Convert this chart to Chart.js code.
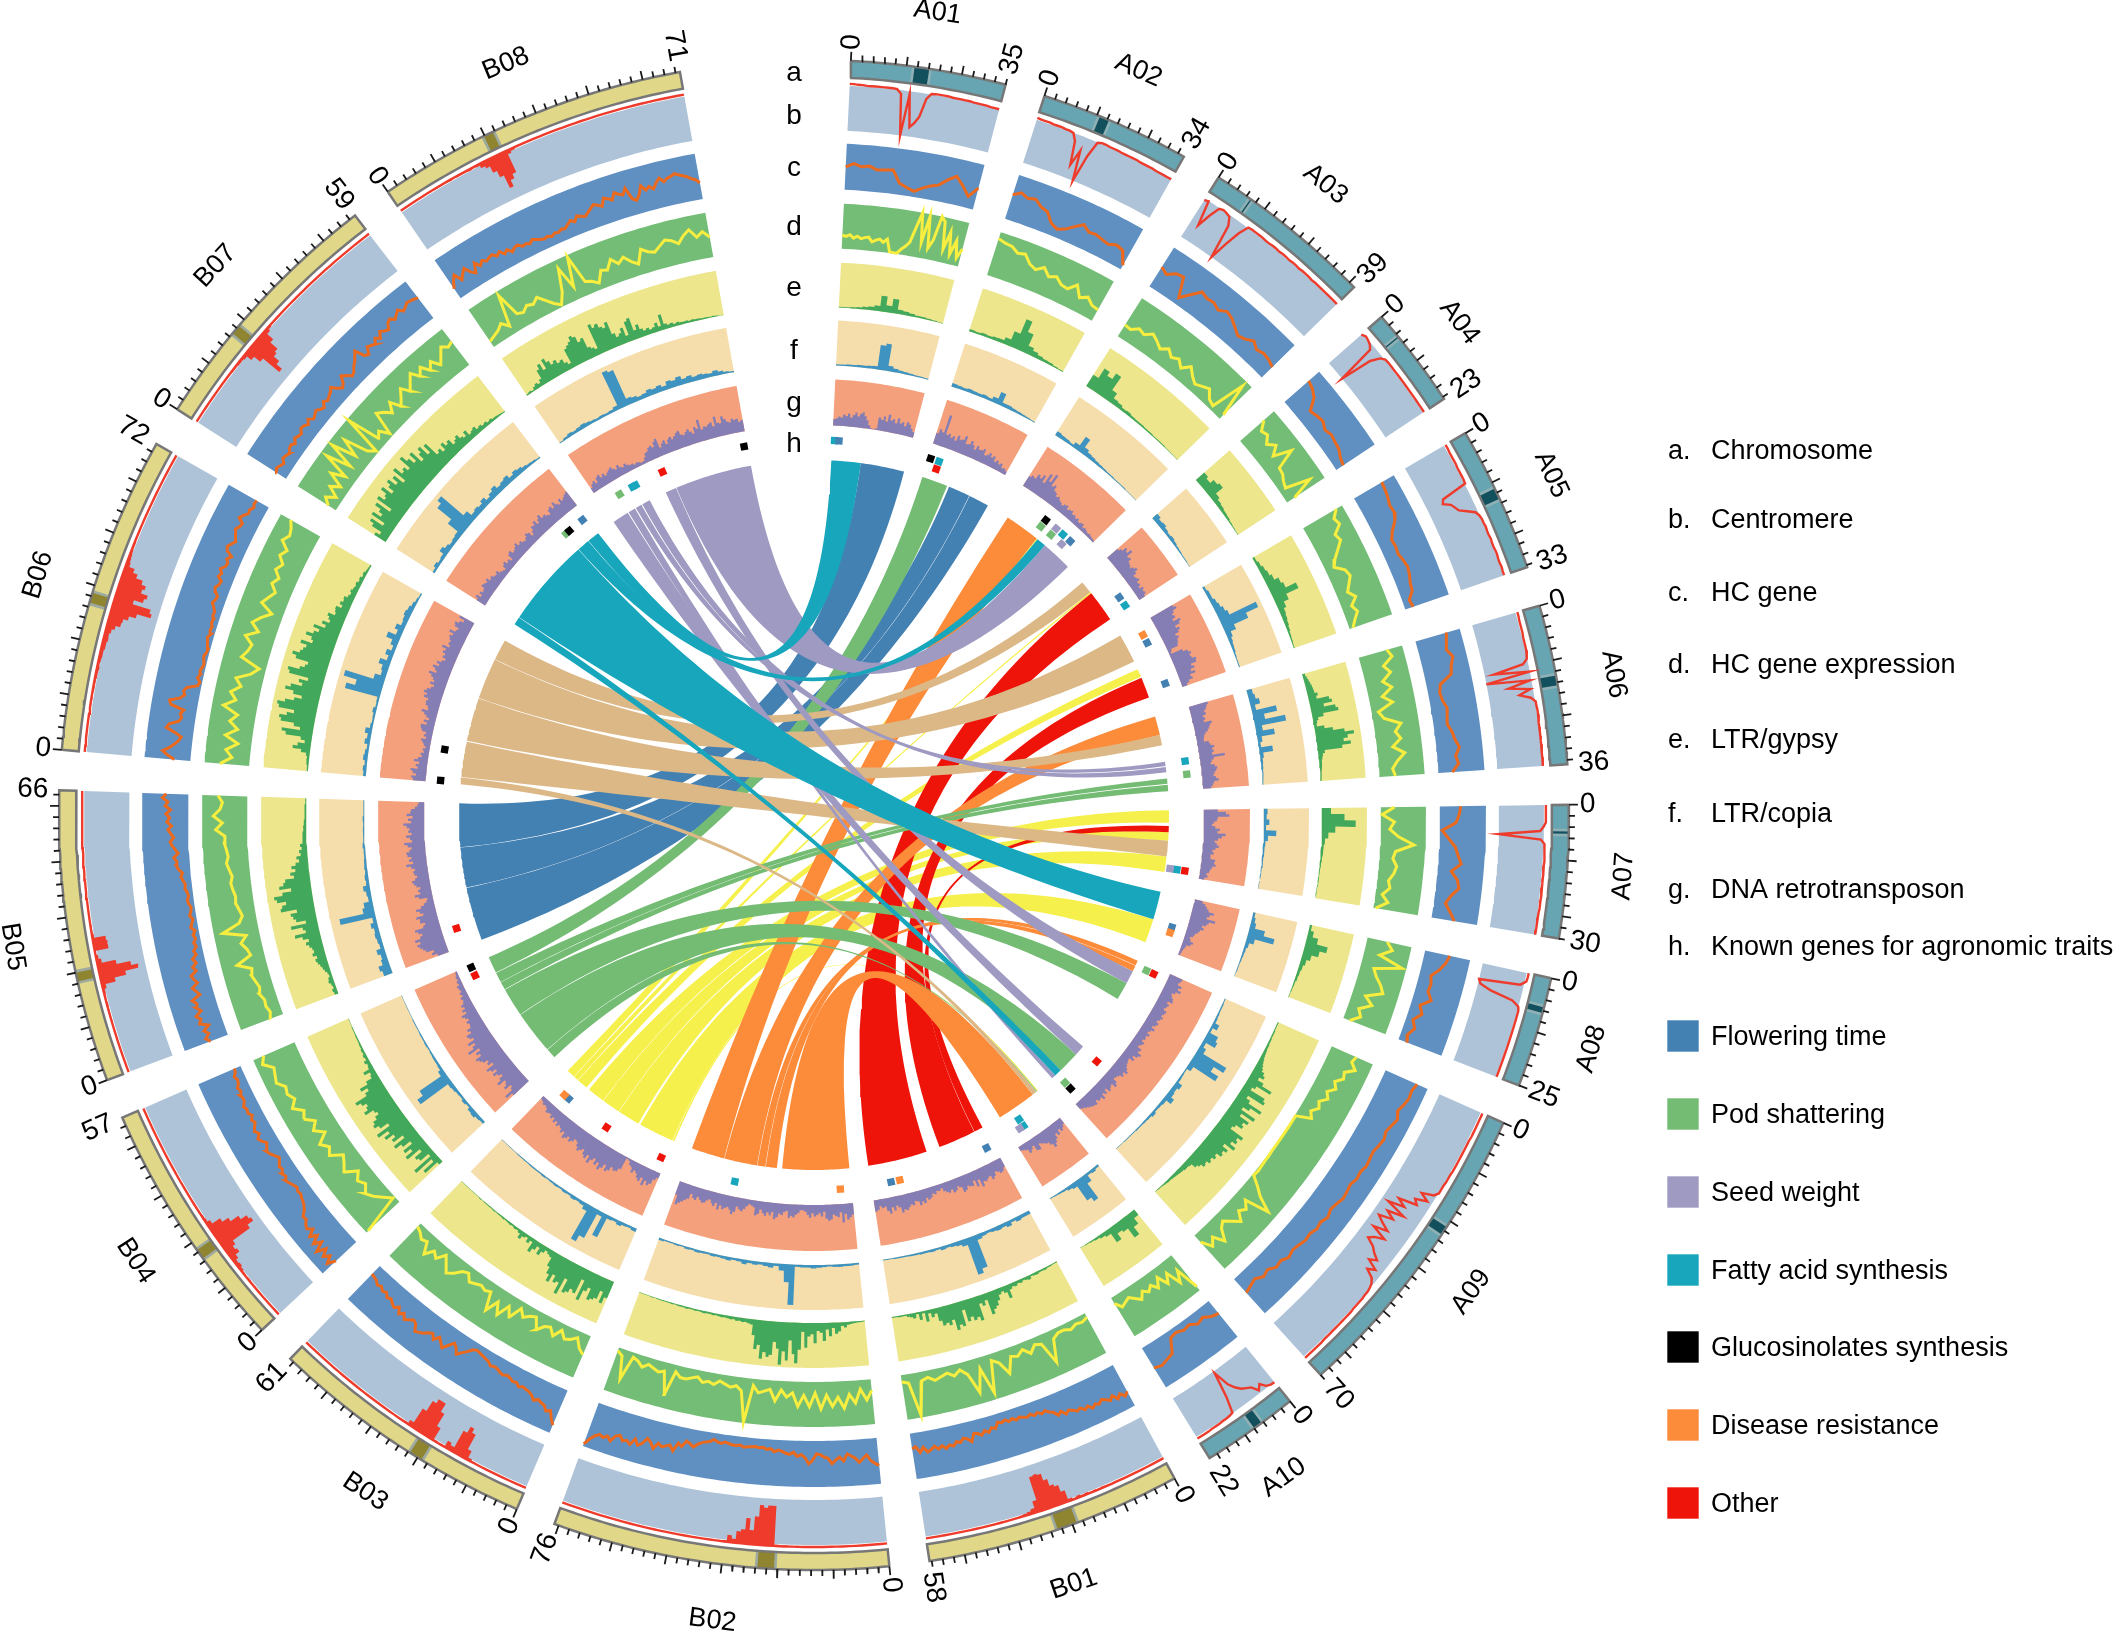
<!DOCTYPE html>
<html>
<head>
<meta charset="utf-8">
<title>Genome circos</title>
<script src="https://cdn.jsdelivr.net/npm/chart.js@4"></script>
<style>
  html, body { margin: 0; padding: 0; background: #fff; }
  canvas { display: block; }
</style>
</head>
<body>
<canvas id="circos" width="2113" height="1636"></canvas>
<script>
const chrNames = ['A01','A02','A03','A04','A05','A06','A07','A08','A09','A10','B01','B02','B03','B04','B05','B06','B07','B08'];
const chrSizes = [35,34,39,23,33,36,30,25,70,22,58,76,61,57,66,72,59,71];
const cenStart = [14.3,13.2,8.6,5.7,14,16,6,6.7,26.5,8,24,25.8,24,20.7,23,33.5,21,24.8];
const cenEnd   = [17.6,15.4,8.9,6,16.5,18.2,6.5,8,28.5,10,28.5,29.5,27,23,25,35.8,23.2,27];

// b. centromere, depth below the outer edge of the band
const centromere = [
  [0,0,1,1,2,2,2,2,2,2,2,3,12,100,10,80,70,55,15,3,2,2,2,2,3,3,3,3,3,4,4,4,4,5,5,5],
  [0,1,1,1,2,2,2,3,3,5,20,70,35,100,40,5,2,2,3,3,3,4,4,4,4,4,5,5,5,5,6,6,6,6,6],
  [8,5,60,30,6,3,5,8,25,100,60,25,3,2,2,2,2,3,3,2,2,3,2,2,3,2,2,3,2,2,2,3,2,2,2,2,2,2,2,2],
  [8,3,5,8,15,100,30,10,3,2,2,2,2,2,2,2,2,2,2,2,2,2,2,2],
  [0,0,1,1,1,1,2,2,2,2,3,60,65,50,45,40,25,10,5,3,3,2,3,3,2,3,3,2,2,3,3,2,3,3],
  [0,0,1,1,1,1,2,2,2,2,3,5,15,80,5,100,8,55,10,35,12,3,3,2,2,2,3,3,3,3,3,3,3,3,3,3,3],
  [0,0,0,0,1,5,12,100,10,2,1,1,1,1,1,1,1,1,1,1,1,1,1,1,1,2,2,2,2,2,2],
  [0,0,1,12,100,95,70,20,5,2,2,2,2,2,2,2,2,2,2,2,2,2,2,2,2,2],
  [0,0,0,0,0,0,0,1,1,1,1,1,1,1,1,1,2,2,2,3,3,3,10,35,15,40,30,70,50,85,40,75,55,85,70,50,80,45,65,75,55,45,30,45,20,35,15,8,5,3,3,2,2,2,2,1,1,1,1,1,1,1,1,1,1,0,0,0,0,0,0],
  [3,4,8,20,10,25,30,35,45,60,95,40,5,3,2,2,1,1,1,0,0,0,0],
  [0,0,0,1,0,1,1,0,1,1,2,1,2,1,2,3,2,3,2,4,3,5,3,5,25,40,45,60,75,78,76,25,10,6,4,3,2,2,1,1,2,1,1,1,0,1,0,1,0,0,1,0,0,0,0,0,0,0],
  [0,0,0,0,0,1,0,0,0,1,0,1,0,1,1,1,1,1,1,1,2,1,1,2,1,3,85,85,80,85,60,30,55,30,25,8,15,3,2,1,1,1,1,0,1,1,0,1,0,0,1,0,0,1,0,0,0,1,0,0,0,0,1,0,0,0,0,0,0,0,0,0,0,0,0,0],
  [0,0,0,1,0,1,0,1,1,0,1,1,1,2,5,20,55,65,50,10,15,2,1,3,30,60,80,80,70,45,10,3,2,1,1,1,1,0,1,1,0,0,1,0,0,0,1,0,0,0,0,0,0,0,0,0,0,0,0,0,0],
  [0,0,1,0,1,1,1,1,2,2,3,2,3,5,8,6,12,22,18,25,70,85,80,65,45,30,10,4,3,2,2,1,1,1,0,1,0,0,1,0,0,0,0,0,0,0,0,0,0,0,0,0,0,0,0,0,0],
  [0,0,0,1,0,0,1,1,1,1,1,1,2,1,2,2,3,2,3,4,8,30,55,85,70,40,10,5,3,30,30,28,4,2,2,1,1,1,1,1,0,1,0,1,0,0,0,0,0,0,0,0,0,0,0,0,0,0,0,0,0,0,0,0,0,0],
  [0,0,0,1,1,1,1,1,2,1,2,2,2,2,3,3,3,4,4,5,4,5,6,6,8,8,10,9,12,18,28,30,40,55,85,80,40,60,65,50,55,45,30,20,8,6,5,4,3,3,2,2,2,1,1,1,1,1,1,1,1,1,0,1,0,0,0,0,0,0,0,0],
  [0,0,0,1,1,1,1,1,1,2,1,2,2,2,3,3,4,4,6,18,35,80,65,50,45,25,8,4,2,2,1,1,1,1,1,0,1,0,0,0,0,0,0,0,0,0,0,0,0,0,0,0,0,0,0,0,0,0,0],
  [0,0,0,1,1,1,1,1,1,2,2,2,2,3,2,3,3,3,4,3,4,10,15,30,45,75,60,50,8,4,2,1,1,1,1,1,1,1,1,0,1,0,1,0,0,1,0,0,0,0,0,0,0,0,0,0,0,0,0,0,0,0,0,0,0,0,0,0,0,0,0]
];

// c. HC gene
const hcGene = [
  [50,58,52,55,48,50,52,25,18,12,22,30,35,50,62,45,25,48],
  [55,65,58,62,50,45,25,18,25,38,50,40,42,38,35,42,38,10],
  [50,42,55,58,15,35,55,50,52,45,55,50,40,30,35,45,35,40,38,32],
  [70,65,55,30,35,38,30,35,32,30,22,18],
  [70,68,65,60,62,55,40,30,32,30,35,38,35,30,28,15,18],
  [70,65,60,70,62,58,30,25,28,35,32,30,38,42,50,40,45,30],
  [45,42,35,5,20,35,42,50,30,45,50,35,25,38,50],
  [55,50,40,25,30,28,40,20,30,15,25,15,20],
  [75,70,72,68,62,70,65,60,65,62,58,60,62,58,60,55,58,60,55,52,58,52,55,50,52,48,45,50,42,45,35,40,30,35,40],
  [35,30,20,25,15,18,12,15,45,50,55,50],
  [65,72,62,70,58,66,60,55,62,58,64,55,60,52,56,50,46,52,42,48,38,34,28,32,26,30,24,28,25,22,26,20,24,18,22,18,30,26,34,28,36,30,28,44,36,32,40,36,44,40,46,38,44,36,42,46,34,44,30,34],
  [60,55,48,35,42,50,40,35,30,45,36,42,50,38,35,30,28,42,50,36,30,34,25,30,28,24,22,26,20,22,18,20,18,19,20,22,18,20,20,18,16,20,18,14,20,22,25,30,38,32,28,42,36,55,44,48,52,46,60,48,42,55,62,50,65,58,62,52,56,70,62,68,64,70,80,95],
  [82,70,55,60,50,48,44,50,42,38,36,34,38,32,34,30,28,32,30,26,25,28,22,20,18,16,14,18,28,36,46,34,28,40,52,44,36,48,38,42,50,54,58,44,40,46,52,42,50,38,46,42,36,40,32,36,30,34,28,26,24],
  [60,78,62,74,58,78,56,72,54,68,52,62,58,50,52,42,36,32,30,26,28,24,28,32,36,30,34,28,30,24,20,26,32,36,30,26,34,38,30,36,32,26,30,24,30,28,32,26,24,28,22,26,20,18,22,16,14],
  [40,48,38,46,32,50,44,52,38,46,42,50,30,36,42,28,34,38,24,30,20,26,16,20,12,16,10,14,8,16,12,8,14,10,8,12,14,10,12,16,14,18,22,18,26,30,28,34,24,30,36,40,32,38,44,36,46,40,48,38,50,44,56,48],
  [35,50,62,48,38,30,25,40,60,55,35,30,34,28,58,62,40,32,36,30,8,5,12,8,10,7,5,8,10,6,5,8,10,14,8,12,10,14,12,16,15,20,26,22,20,28,32,26,24,34,30,36,28,26,32,24,38,42,36,30,34,38,42,36,34,46,40,32,34,28,32,30],
  [24,30,26,22,30,28,24,30,32,26,34,30,28,36,34,28,36,26,30,34,28,24,34,28,32,36,42,30,22,28,42,34,24,28,36,42,50,58,36,32,46,42,38,48,40,52,46,42,54,58,50,56,62,52,56,62,60,58,55],
  [25,40,50,32,42,50,36,28,48,36,44,38,42,44,36,42,32,38,28,34,36,28,30,26,32,28,24,22,24,20,24,22,26,24,30,36,30,40,36,32,38,44,50,46,40,56,52,46,60,54,50,62,36,30,40,58,46,52,44,56,64,54,60,62,66,62,58,54,48,44,36]
];

// d. HC gene expression
const hcExpression = [
  [30,28,32,25,30,25,28,30,20,25,28,22,30,3,2,2,12,20,30,65,100,35,95,25,45,100,90,30,70,22,55,18,40],
  [85,80,78,68,72,55,48,60,45,52,40,38,55,32,42,30,28],
  [30,28,40,35,48,40,30,42,30,38,25,42,28,18,25,32,15,10,88,12],
  [70,50,55,40,55,35,75,30,28,20,15,70,20],
  [85,70,75,55,60,45,30,20,40,45,35,25,38,22,30,18,8],
  [65,72,48,60,38,55,30,50,15,25,60,45,55,35,60,42,30,35],
  [30,3,30,20,40,75,35,30,40,35,25,30,15,30,5],
  [45,60,35,90,30,40,55,65,30,50,25,35,15],
  [60,55,70,50,55,40,50,35,45,30,38,25,35,2,2,2,2,2,2,2,2,3,3,4,5,3,25,45,80,25,40,30,50,35,20,30,55,30,45,20],
  [90,35,60,25,45,20,40,25,35,25,40,30,20,25,30,15],
  [10,15,12,18,12,12,20,70,20,15,30,15,25,20,55,25,15,85,25,75,30,15,25,15,20,25,15,20,95,20,15],
  [25,45,20,50,30,60,35,55,30,60,25,55,30,55,25,35,20,45,20,25,30,15,98,30,20,25,20,15,25,20,25,15,20,25,25,15,70,20,25,20,15,25,15,10,65,15,8],
  [45,35,15,25,30,15,35,20,25,40,15,20,30,15,45,25,55,30,60,20,25,20,25,30,15,20,35,45,30,15,35,25,45,20,25,15,10],
  [95,5,20,35,45,30,40,25,50,40,30,55,45,60,35,55,40,60,50,70,55,65,60,75,70,65,85,75],
  [30,25,30,28,35,30,35,40,35,65,30,35,45,30,80,40,30,35,40,38,42,45,40,45,50,45,48,52,50,70,55,75,60,55,65],
  [65,40,55,30,60,35,55,40,75,50,65,45,60,30,15,60,50,45,65,40,60,45,25,55,45,35,50,40,55,45,60,50,70,60,65,75],
  [20,35,15,40,20,55,25,85,30,90,35,75,20,5,95,20,30,8,60,50,35,55,30,45,60,40,55,70,50,65,45,60,40,55,70,60,65],
  [15,20,25,35,20,90,35,30,40,35,45,30,15,5,30,80,30,95,30,25,15,40,35,55,40,50,35,25,55,45,40,50,60,55,45,60,70,50,60,45]
];

// e. LTR/gypsy
const gypsy = [
  [2,2,3,4,6,8,12,35,15,32,10,8,6,4,4,3,2,1],
  [5,4,6,5,7,8,15,35,70,45,18,12,8,6,5,3,2],
  [30,55,45,60,25,12,10,6,7,5,4,4,3,3,2,2,2,1,1,1],
  [25,20,30,35,15,10,8,6,5,3,2,1],
  [5,8,12,15,20,30,35,60,30,18,12,10,8,6,4,3,2],
  [6,8,10,12,14,15,16,22,18,45,50,30,55,60,25,12,8,6,22,40,65,85,70,60,75,55,15,10,8,6,6,5,4,3,2,2],
  [20,50,75,30,15,8,6,5,4,3,2,2,2,1,1],
  [5,12,25,50,35,20,12,8,6,5,3,2,1],
  [2,2,2,3,3,3,4,4,5,5,6,7,8,10,12,15,18,25,30,20,35,60,25,18,55,60,20,30,65,40,25,62,30,55,45,50,35,30,65,55,60,50,65,40,55,48,52,40,45,38,42,35,38,30,25,14,12,12,10,9,8,7,6,5,5,4,3,2,2,1],
  [15,30,50,25,20,35,12,8,5,3,2,1],
  [2,2,3,3,5,4,4,6,5,4,9,7,5,8,6,10,8,12,30,15,10,14,25,35,40,50,15,25,18,55,45,50,40,48,20,55,50,60,35,45,38,42,30,12,18,8,25,5,18,4,12,8,6,3,3,3,2,2],
  [2,3,3,4,5,6,12,8,20,25,12,30,15,40,22,18,45,25,30,55,20,60,90,70,40,85,65,95,60,45,75,80,70,85,55,65,35,12,10,8,9,7,8,6,7,6,5,6,5,4,5,4,4,5,4,3,4,3,3,4,3,3,3,2,3,2,2,2,2,2,1,2,1,1,1,1],
  [40,55,30,50,55,60,35,45,70,25,60,55,65,70,40,80,55,60,45,65,50,35,15,12,8,15,25,10,20,30,8,15,6,10,18,8,5,6,4,5,4,3,4,3,3,2,3,2,2,2,2,1,2,1,1,1,1,1,1,1,1],
  [10,45,15,60,12,35,40,20,55,35,50,25,45,60,30,55,45,65,50,75,40,60,70,65,55,45,50,70,60,55,65,75,45,35,50,30,15,12,25,10,8,12,6,8,5,6,4,4,3,3,3,2,2,2,1,1,1],
  [8,10,6,8,12,10,6,8,12,15,18,22,25,20,28,22,25,30,35,28,40,55,30,35,60,25,45,50,55,40,75,70,60,80,85,65,45,70,60,55,35,42,30,38,28,20,25,15,18,12,15,10,10,8,8,6,7,5,5,4,4,3,3,3,2,2],
  [3,3,5,6,5,8,20,40,30,15,25,60,70,30,45,75,80,65,50,85,90,75,55,40,60,80,70,45,55,35,80,85,60,50,45,75,85,70,65,60,75,50,55,70,55,45,60,35,45,30,35,40,25,28,30,18,25,20,22,15,12,15,12,10,12,8,10,6,8,5,4,3],
  [30,20,45,55,25,60,40,50,65,30,70,55,60,75,50,65,75,55,70,45,80,60,65,55,85,70,55,75,45,60,70,45,65,30,35,25,40,30,35,20,25,30,20,15,25,12,15,18,10,12,8,10,6,8,5,5,4,3,2],
  [3,5,3,8,12,8,15,35,45,28,50,40,30,35,25,28,18,12,45,50,55,65,60,45,50,25,20,15,70,60,65,55,50,60,30,20,25,35,15,45,50,20,30,18,12,15,10,12,20,10,35,12,8,10,6,8,6,5,6,4,5,4,4,3,3,3,2,3,2,1,1]
];

// f. LTR/copia
const copia = [
  [3,3,4,4,5,5,6,7,55,60,12,8,6,5,4,3,3,2],
  [8,7,6,8,7,6,8,6,12,28,8,8,6,5,4,3,2],
  [10,8,7,5,12,35,15,10,8,6,5,4,3,3,2,2,2,1,1,1],
  [15,10,12,8,6,8,6,4,3,2,2,1],
  [5,8,8,12,15,20,25,90,60,25,12,8,6,5,3,2,2],
  [12,15,22,10,55,25,70,15,40,10,5,30,8,5,4,3,2,1],
  [8,6,12,5,28,10,5,4,4,3,3,2,2,1,1],
  [5,8,12,35,60,18,8,5,4,3,2,2,1],
  [2,3,3,4,5,15,5,25,30,8,15,75,50,70,12,3,4,5,15,10,12,20,8,6,5,8,5,4,3,3,2,2,2,1,1],
  [5,8,6,20,60,50,12,8,5,4,3,2],
  [8,8,10,6,12,8,10,8,6,8,12,75,85,15,10,8,6,8,5,6,5,5,4,4,3,3,3,2,2],
  [4,5,5,6,5,4,5,6,8,6,6,5,90,40,15,6,10,8,6,8,6,10,6,5,8,6,5,6,4,5,6,4,5,3,4,3,3,5],
  [8,5,6,10,6,8,55,10,70,85,15,8,6,8,5,6,4,5,4,3,4,3,3,3,2,2,2,1,1,1,1],
  [6,8,12,10,5,8,5,6,8,10,85,70,12,6,5,5,4,3,4,3,3,2,2,2,1,1,1,1,1],
  [20,25,15,12,18,8,10,12,10,15,8,80,25,20,8,10,15,6,8,5,6,5,4,4,5,3,3,3,2,3,2,2,1],
  [6,8,6,10,8,5,12,8,15,6,4,5,8,4,5,80,60,90,25,12,15,25,10,18,8,15,30,12,20,10,12,15,12,8,5,3],
  [5,10,6,8,18,12,8,10,12,40,80,90,25,12,15,12,18,10,15,20,12,15,18,10,15,12,8,6,5,3],
  [2,5,8,6,8,10,8,6,5,6,5,6,10,90,85,15,12,8,10,15,12,15,10,18,15,20,12,15,10,12,10,8,12,8,5,3]
];

// g. DNA retrotransposon
const dnaRetro = [
  [14,16,20,18,25,22,28,20,26,32,24,30,34,26,18,8,2,1,3,28,24,32,22,38,26,30,22,34,24,28,20,30,26,18,12],
  [25,35,30,70,28,32,25,30,22,35,28,30,40,24,26,35,28,20,30,24,25,30,18,22,28,20,25,15,20,14,18,10,12,8],
  [25,30,28,40,35,45,30,55,40,60,35,40,30,28,22,25,20,18,15,20,22,15,18,20,14,16,12,15,10,12,14,8,10,8,6,8,6,5,4],
  [30,35,45,40,50,35,38,30,28,25,30,35,28,20,22,25,18,20,15,22,18,20,15],
  [55,60,50,45,48,40,55,50,38,45,40,30,35,30,28,25,8,5,30,40,45,40,42,50,48,35,40,30,38,25,28,18,12],
  [42,38,35,30,32,25,28,24,40,35,32,28,22,18,16,15,25,28,35,30,32,28,55,30,25,22,30,35,32,28,25,30,35,25,22,18],
  [30,48,55,30,28,22,18,25,35,30,48,40,32,25,30,35,28,22,25,18,20,30,28,32,25,22,20,15,18,12],
  [18,25,30,35,48,40,35,55,42,38,30,35,28,25,20,18,12,15,22,18,10,8,6,5,4],
  [30,28,25,35,30,38,28,22,25,30,32,22,28,25,22,30,28,25,30,26,22,28,25,20,28,22,18,25,20,22,18,25,22,18,28,25,35,30,22,28,18,20,22,25,30,35,28,32,25,22,20,30,35,25,28,32,22,30,25,35,28,30,25,32,30,28,25,22,18,15],
  [15,20,25,18,28,22,32,38,45,35,28,25,22,18,30,28,15,20,25,15,12,10],
  [22,28,30,25,22,30,35,25,28,32,30,40,22,35,20,30,28,25,32,35,22,18,25,28,20,25,22,18,10,14,12,18,15,22,25,20,30,25,32,22,20,28,25,30,35,32,38,25,20,30,22,35,28,18,20,15,22,25],
  [25,30,35,22,40,18,28,25,22,32,35,30,15,25,18,22,25,18,28,22,15,12,12,18,22,28,25,30,15,18,25,22,30,35,20,28,22,30,25,18,28,32,15,12,10,15,22,28,25,20,32,38,30,25,28,32,25,35,22,30,25,18,22,28,30,25,20,28,25,18,30,35,40,45,50,30],
  [12,18,30,35,28,40,25,35,30,22,18,25,15,12,5,3,30,38,40,35,45,50,38,48,55,42,50,38,45,55,40,50,45,35,40,45,38,30,28,35,40,32,38,42,30,35,28,25,30,22,28,20,25,18,20,22,15,12,14,10,8],
  [45,60,40,35,50,42,38,55,45,35,42,50,38,48,55,35,45,40,50,55,60,45,52,40,65,50,42,55,38,45,48,35,40,30,28,32,25,30,35,22,28,20,25,18,15,18,12,15,10,12,14,8,10,6,8,5,4],
  [25,35,30,45,50,55,60,52,62,48,42,50,55,35,30,40,38,45,28,35,42,30,22,15,12,30,38,25,28,22,30,35,38,30,25,30,32,28,35,45,30,38,32,40,42,35,30,38,45,28,32,40,28,35,32,38,45,28,35,25,38,30,28,20,15,12],
  [28,32,22,30,35,20,25,18,30,22,15,18,12,15,10,14,18,22,12,18,15,25,28,30,18,25,15,22,28,35,22,25,30,32,28,40,35,42,38,30,25,35,28,32,38,45,30,35,42,30,38,28,22,30,28,35,30,40,25,30,28,32,35,30,40,28,25,35,38,30,22,35],
  [22,28,18,25,20,22,30,28,25,30,22,25,20,18,22,15,12,10,18,22,15,18,12,25,28,20,22,25,30,22,25,20,18,22,28,25,15,22,30,28,35,25,32,38,28,30,25,22,32,35,28,38,30,25,35,28,32,35,38],
  [12,18,22,15,25,28,20,25,18,22,25,28,22,18,25,18,15,20,15,12,12,8,10,8,5,6,12,20,22,28,30,25,35,40,18,25,30,20,28,32,25,30,35,38,28,25,30,35,28,22,35,30,48,25,30,28,32,35,25,45,30,28,42,35,28,25,32,28,30,22,25]
];

// from chr, start, end, to chr, start, end (Mb)
const flowerLinks = [
  ['B05',45.2,66,'A01',14,35],
  ['B05',25.8,45,'A02',13.5,24],
  ['B05',0,25.6,'A02',24.2,34]
];
const podLinks = [
  ['B04',49,57,'A02',0,12.5],
  ['B04',44,48.8,'A06',30,32.5],
  ['B04',40,43.8,'A06',33,36],
  ['B04',26,39.8,'A09',12.5,21],
  ['B04',5,25.8,'A09',54,64.5],
  ['B04',0,4.8,'A10',0.5,1]
];
const seedLinks = [
  ['B08',34,71,'A03',24,39],
  ['B08',28.5,33.8,'A09',6,12.5],
  ['B08',0,8,'A09',49,54],
  ['B08',8.5,12,'A09',68,70],
  ['B08',12.5,15.5,'A06',22,24],
  ['B08',16,20,'A06',24.5,27]
];
const fattyLinks = [
  ['B07',53.2,59,'A01',0,14],
  ['B07',47,53,'A03',19.5,24],
  ['B07',4,46.8,'A08',0,13.5],
  ['B07',0,3.8,'A09',64.5,68]
];
const diseaseLinks = [
  ['B02',0,32,'A10',3,22],
  ['B02',60,76,'A03',2,19],
  ['B02',44,59.8,'A06',0,9],
  ['B02',40,43.8,'A09',3.2,6],
  ['B02',34.5,39.8,'A09',0.5,3]
];
const otherLinks = [
  ['B01',29.5,58,'A04',7.7,23],
  ['B01',5,23,'A05',22.5,32.5],
  ['B01',0.5,4.8,'A07',7.5,10.5]
];
const yellowLinks = [
  ['B03',57,61,'A03',19,19.5],
  ['B03',54.5,56.8,'A04',7,7.7],
  ['B03',49,54.3,'A05',18,22],
  ['B03',39,47.5,'A07',0,6],
  ['B03',30,38.8,'A07',10.5,14.5],
  ['B03',19,29.8,'A07',22,29.5],
  ['B03',1,18,'A08',13.5,25],
  ['B03',0,0.8,'A10',0,0.5]
];
const tanLinks = [
  ['B06',62,72,'A04',1,7],
  ['B06',42,61.8,'A05',0,14],
  ['B06',21,41.8,'A06',9,14],
  ['B06',3.5,20.5,'A07',14.5,22],
  ['B06',0,3.3,'A10',1,3]
];

// chr, Mb, group, tier from the outside
const knownGenes = [
  ['A01',1,'fatty',0],['A01',3,'flower',0],['A02',1,'gluco',0],['A02',5,'fatty',0],['A02',5,'other',1],
  ['A03',17,'gluco',0],['A03',17,'pod',1],['A03',23,'seed',0],['A03',27,'fatty',0],['A03',31.5,'flower',0],
  ['A03',23,'pod',1],['A03',29.5,'seed',1],['A04',17,'flower',0],['A04',21.5,'fatty',0],['A05',5,'disease',0],
  ['A05',9,'flower',0],['A05',29,'flower',0],['A06',23,'fatty',0],['A06',29,'pod',0],['A07',27.5,'other',0],
  ['A07',27.5,'fatty',1],['A07',27.5,'seed',2],['A08',14.5,'flower',0],['A08',17,'disease',0],['A09',3,'other',0],
  ['A09',3,'pod',1],['A09',50,'other',0],['A09',67,'gluco',0],['A09',67,'pod',1],['A10',15,'fatty',1],
  ['A10',15,'fatty',0],['A10',17,'seed',0],['B01',3.3,'flower',0],['B01',45,'disease',0],['B01',49,'flower',0],
  ['B02',5,'disease',0],['B02',52.7,'fatty',0],['B03',2.5,'other',0],['B03',30.6,'other',0],['B03',52,'flower',0],
  ['B03',54.5,'disease',0],['B04',52,'other',0],['B04',56,'gluco',0],['B05',8.7,'other',0],['B06',1,'gluco',0],
  ['B06',15,'gluco',0],['B07',47.5,'pod',0],['B07',49.3,'gluco',0],['B07',57,'flower',0],['B08',9.3,'pod',0],
  ['B08',16,'fatty',0],['B08',17.5,'fatty',0],['B08',31,'other',0],['B08',69.5,'gluco',0]
];

const trackLetters = ['a','b','c','d','e','f','g','h'];
const trackNames = ['Chromosome','Centromere','HC gene','HC gene expression','LTR/gypsy','LTR/copia','DNA retrotransposon','Known genes for agronomic traits'];
const groupNames = ['Flowering time','Pod shattering','Seed weight','Fatty acid synthesis','Glucosinolates synthesis','Disease resistance','Other'];

const colors = {
  flower: '#4481B3', pod: '#74BC74', seed: '#9E9AC2', fatty: '#17A6BC',
  gluco: '#000000', disease: '#FC8B3A', other: '#EE140A', yellow: '#F6F04C', tan: '#DCB887'
};
const groupKeys = ['flower','pod','seed','fatty','gluco','disease','other'];

// layout
const CX = 814, CY = 815;
const DEG_PER_MB = 0.34, GAP = 3.07, FIRST = 2.8;
const chrStart = {};
let angleNow = FIRST;
chrNames.forEach((n, i) => {
  chrStart[n] = angleNow;
  angleNow += chrSizes[i] * DEG_PER_MB + GAP;
});

function toAngle(name, mb) { return chrStart[name] + mb * DEG_PER_MB; }
function polar(deg, r) {
  const a = deg * Math.PI / 180;
  return { x: CX + r * Math.sin(a), y: CY - r * Math.cos(a) };
}
function arc(a0, a1, r) {
  const n = Math.max(2, Math.ceil(Math.abs(a1 - a0) / 0.5));
  const pts = [];
  for (let i = 0; i <= n; i++) pts.push(polar(a0 + (a1 - a0) * i / n, r));
  return pts;
}
function band(a0, a1, r0, r1) {
  return arc(a0, a1, r1).concat(arc(a1, a0, r0));
}

const datasets = [];
function addShape(pts, color) {
  datasets.push({ data: pts, showLine: true, fill: 'shape', backgroundColor: color, borderWidth: 0, pointRadius: 0 });
}
function addLine(pts, color, width) {
  datasets.push({ data: pts, showLine: true, fill: false, borderColor: color, borderWidth: width, pointRadius: 0, spanGaps: false, borderJoinStyle: 'miter' });
}

// ribbons, quadratic curve pulled to the centre
function curve(a0, a1) {
  const p = polar(a0, 355), q = polar(a1, 355), pts = [];
  for (let i = 1; i < 60; i++) {
    const t = i / 60, u = 1 - t;
    pts.push({ x: u * u * p.x + 2 * u * t * CX + t * t * q.x, y: u * u * p.y + 2 * u * t * CY + t * t * q.y });
  }
  return pts;
}
function addLinks(links, color) {
  links.forEach(l => {
    const a1 = toAngle(l[0], l[1]), a2 = toAngle(l[0], l[2]);
    const b1 = toAngle(l[3], l[4]), b2 = toAngle(l[3], l[5]);
    // B side runs past A side going clockwise, so walk from the A arc first
    const pts = arc(b1, b2, 355).concat(curve(b2, a1), arc(a1, a2, 355), curve(a2, b1));
    addShape(pts, color);
  });
}
addLinks(yellowLinks, colors.yellow);
addLinks(otherLinks, colors.other);
addLinks(diseaseLinks, colors.disease);
addLinks(flowerLinks, colors.flower);
addLinks(podLinks, colors.pod);
addLinks(tanLinks, colors.tan);
addLinks(seedLinks, colors.seed);
addLinks(fattyLinks, colors.fatty);

function valuePoint(name, values, i, size, r0, r1) {
  return polar(toAngle(name, size * i / (values.length - 1)), r0 + (r1 - r0) * values[i] / 100);
}
function addBars(name, size, values, r0, r1, color) {
  const step = size / values.length;
  const top = [];
  values.forEach((v, i) => {
    const r = r0 + (r1 - r0) * v / 100;
    top.push(polar(toAngle(name, i * step), r), polar(toAngle(name, (i + 1) * step), r));
  });
  addShape(top.concat(arc(toAngle(name, size), toAngle(name, 0), r0)), color);
}
function addProfile(name, size, values, r0, r1, color, width) {
  addLine(values.map((v, i) => valuePoint(name, values, i, size, r0, r1)), color, width);
}

chrNames.forEach((name, i) => {
  const size = chrSizes[i];
  const a0 = toAngle(name, 0), a1 = toAngle(name, size);
  const isA = name[0] === 'A';

  // a. chromosome
  addShape(band(a0, a1, 738, 755), isA ? '#66A5B1' : '#E0D888');
  addShape(band(toAngle(name, cenStart[i] - 0.6), toAngle(name, cenEnd[i] + 0.6), 738, 755), isA ? '#8FB0B4' : '#9EAAA0');
  addShape(band(toAngle(name, cenStart[i]), toAngle(name, cenEnd[i]), 738, 755), isA ? '#12505E' : '#8F8430');
  const outline = band(a0, a1, 738, 755);
  outline.push(outline[0]);
  addLine(outline, '#777777', 2.5);

  // ticks every 2.5 Mb
  const ticks = [];
  for (let k = 0; k * 2.5 <= size; k++) {
    const a = toAngle(name, k * 2.5);
    ticks.push(polar(a, 755), polar(a, k % 5 === 0 ? 764 : 761), { x: null, y: null });
  }
  addLine(ticks, '#1a1a1a', 1.8);

  // b. centromere
  addShape(band(a0, a1, 685, 730), '#AEC3D8');
  if (isA) addProfile(name, size, centromere[i], 732, 685, '#EE3B2C', 2.4);
  else {
    addBars(name, size, centromere[i], 732, 685, '#EE3B2C');
    addLine(arc(a0, a1, 732), '#EE3B2C', 2.4);
  }

  // c. HC gene
  addShape(band(a0, a1, 626, 672), '#6090C2');
  addProfile(name, size, hcGene[i], 626, 672, '#EC6A1E', 3);

  // d. HC gene expression
  addShape(band(a0, a1, 567, 612), '#74BD76');
  addProfile(name, size, hcExpression[i], 567, 612, '#F7EE3F', 3);

  // e, f, g
  addShape(band(a0, a1, 508, 553), '#EDE68C');
  addBars(name, size, gypsy[i], 508, 553, '#41A85C');
  addShape(band(a0, a1, 450, 495), '#F5DEAC');
  addBars(name, size, copia[i], 450, 495, '#3F93C0');
  addShape(band(a0, a1, 390, 436), '#F4A07C');
  addBars(name, size, dnaRetro[i], 390, 436, '#857EB5');
});

// h. known genes
const tierRadius = [375, 367, 360];
datasets.push({
  data: knownGenes.map(g => polar(toAngle(g[0], g[1]), tierRadius[g[3]])),
  showLine: false, pointStyle: 'rect', pointRadius: 5.2, pointBorderWidth: 0,
  pointBackgroundColor: knownGenes.map(g => colors[g[2]]),
  pointRotation: knownGenes.map(g => toAngle(g[0], g[1]))
});

// legend swatches
const legendY = [1036, 1114, 1192, 1270, 1347, 1425, 1503];
datasets.push({
  data: legendY.map(y => ({ x: 1683, y: y })),
  showLine: false, pointStyle: 'rect', pointRadius: 22.2, pointBorderWidth: 0,
  pointBackgroundColor: groupKeys.map(k => colors[k])
});

// first dataset ends up on top in Chart.js, we pushed bottom first
datasets.reverse();

const FONT = '"Liberation Sans", Arial, sans-serif';
const letterY = [73, 116, 168, 227, 288, 351, 403, 444];
const legendTextY = [452, 521, 594, 666, 741, 815, 891, 948];

const labelPlugin = {
  id: 'labels',
  afterDatasetsDraw(chart) {
    const ctx = chart.ctx;
    const px = p => ({ x: chart.scales.x.getPixelForValue(p.x), y: chart.scales.y.getPixelForValue(p.y) });
    ctx.save();
    ctx.fillStyle = '#000';
    ctx.textBaseline = 'middle';

    function rotated(text, p, deg, align, size) {
      const q = px(p);
      ctx.save();
      ctx.translate(q.x, q.y);
      ctx.rotate(deg * Math.PI / 180);
      ctx.textAlign = align;
      ctx.font = size + 'px ' + FONT;
      ctx.fillText(text, 0, 0);
      ctx.restore();
    }

    chrNames.forEach((name, i) => {
      const size = chrSizes[i];
      const mid = toAngle(name, size / 2);
      const nameDeg = (mid > 90 && mid < 270) ? mid - 180 : mid;
      rotated(name, polar(mid, 812), nameDeg, 'center', 27);
      [[0, '0'], [size, String(size)]].forEach(e => {
        const a = toAngle(name, e[0]);
        if (a < 180) rotated(e[1], polar(a, 766), a - 90, 'left', 28);
        else rotated(e[1], polar(a, 766), a + 90, 'right', 28);
      });
    });

    trackLetters.forEach((t, i) => {
      rotated(t, { x: 794, y: letterY[i] }, 0, 'center', 28);
      rotated(t + '.', { x: 1668, y: legendTextY[i] }, 0, 'left', 27);
      rotated(trackNames[i], { x: 1711, y: legendTextY[i] }, 0, 'left', 27);
    });
    groupNames.forEach((t, i) => {
      rotated(t, { x: 1711, y: legendY[i] + 2 }, 0, 'left', 27);
    });
    ctx.restore();
  }
};

new Chart(document.getElementById('circos').getContext('2d'), {
  type: 'scatter',
  data: { datasets: datasets },
  options: {
    responsive: false,
    animation: false,
    devicePixelRatio: 1,
    layout: { padding: 0, autoPadding: false },
    plugins: { legend: { display: false }, tooltip: { enabled: false } },
    events: [],
    scales: {
      x: { type: 'linear', min: 0, max: 2113, display: false },
      y: { type: 'linear', min: 0, max: 1636, reverse: true, display: false }
    }
  },
  plugins: [labelPlugin]
});
</script>
</body>
</html>
